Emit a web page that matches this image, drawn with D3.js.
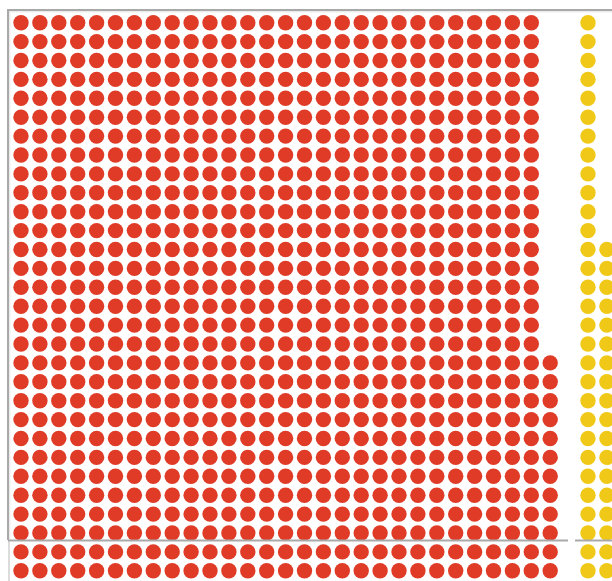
<!DOCTYPE html>
<html>
<head>
<meta charset="utf-8">
<script src="https://cdn.jsdelivr.net/npm/d3@7"></script>
<style>
  html, body { margin: 0; padding: 0; background: #fff; overflow: hidden; }
  svg { display: block; }
</style>
</head>
<body>
<svg id="chart" width="612" height="581"></svg>
<script>
// ---- data ----
const seriesNames = ["red", "yellow"];
const seriesValues = [852, 48];      // number of dots in each group
const seriesColors = ["#df3b27", "#f0c918"];
const gridRows = 30;                 // dots per column (filled bottom-up)
const gapColumns = 1;                // empty columns between groups

// ---- build dot positions from the data ----
const dots = [];
let col = 0;
seriesValues.forEach((v, gi) => {
  for (let i = 0; i < v; i++) {
    const c = col + Math.floor(i / gridRows);
    const r = gridRows - 1 - (i % gridRows);
    dots.push({ group: seriesNames[gi], gi, col: c, row: r });
  }
  col += Math.ceil(v / gridRows) + gapColumns;
});
const maxCol = d3.max(dots, d => d.col);

const pitch = 18.9;
const x = d3.scaleLinear().domain([0, maxCol]).range([21, 21 + maxCol * pitch]);
const y = d3.scaleLinear().domain([0, gridRows - 1]).range([22.7, 22.7 + (gridRows - 1) * pitch]);
const color = d3.scaleOrdinal().domain(seriesNames).range(seriesColors);

const svg = d3.select("#chart");

// frame
svg.append("line").attr("x1", 8).attr("x2", 612).attr("y1", 10).attr("y2", 10)
  .attr("stroke", "#a9a9a9").attr("stroke-width", 2);
svg.append("line").attr("x1", 9).attr("x2", 612).attr("y1", 11.8).attr("y2", 11.8)
  .attr("stroke", "#e4e4e4").attr("stroke-width", 1);
svg.append("line").attr("x1", 8).attr("x2", 8).attr("y1", 9).attr("y2", 540)
  .attr("stroke", "#a9a9a9").attr("stroke-width", 2);
svg.append("line").attr("x1", 9.8).attr("x2", 9.8).attr("y1", 11).attr("y2", 540)
  .attr("stroke", "#e4e4e4").attr("stroke-width", 1);
svg.append("line").attr("x1", 9).attr("x2", 9).attr("y1", 541).attr("y2", 581)
  .attr("stroke", "#dcdcdc").attr("stroke-width", 2);

// dots
svg.append("g").selectAll("circle").data(dots).join("circle")
  .attr("cx", d => x(d.col))
  .attr("cy", d => y(d.row))
  .attr("r", 7.7)
  .attr("fill", d => color(d.group));

// horizontal divider
svg.append("line").attr("x1", 8).attr("x2", 568).attr("y1", 540.5).attr("y2", 540.5)
  .attr("stroke", "#a9a9a9").attr("stroke-width", 2);
svg.append("line").attr("x1", 575).attr("x2", 612).attr("y1", 540.5).attr("y2", 540.5)
  .attr("stroke", "#a9a9a9").attr("stroke-width", 2);
</script>
</body>
</html>
